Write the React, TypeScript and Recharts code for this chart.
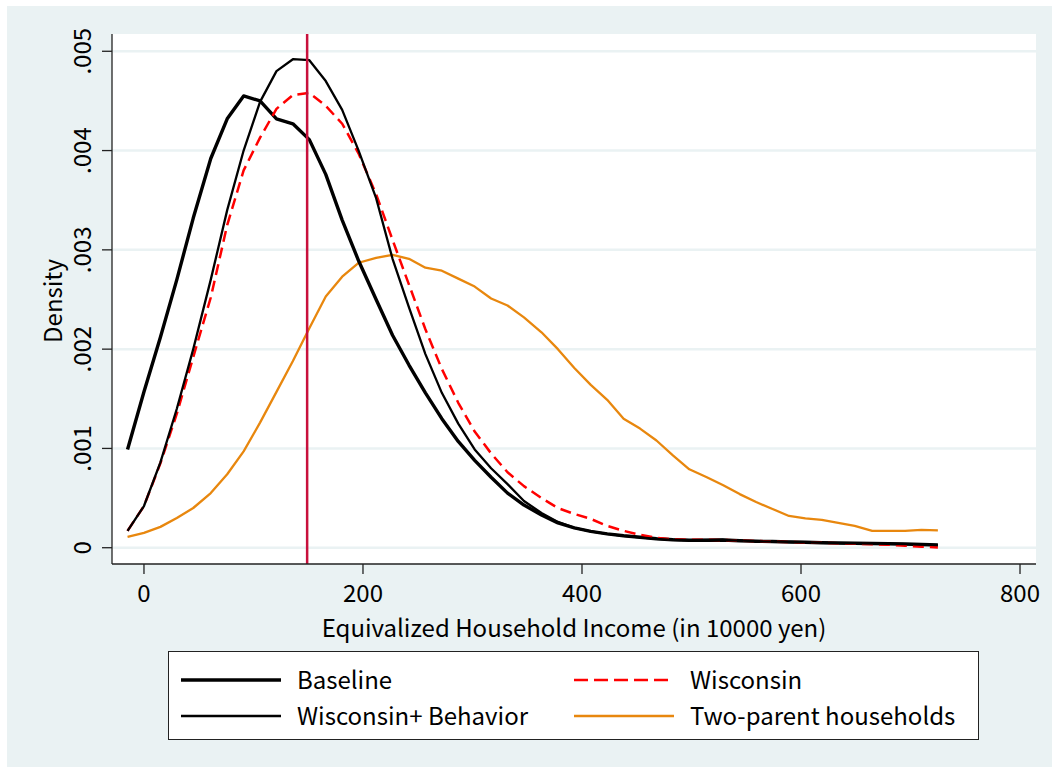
import React from 'react';
import { LineChart, Line, XAxis, YAxis, CartesianGrid, ReferenceLine } from 'recharts';

const xValues = [-15, 0, 15, 30, 45, 61, 76, 91, 106, 121, 136, 151, 166, 181, 196, 212, 227, 242, 257, 272, 287, 302, 317, 332, 347, 363, 378, 393, 408, 423, 438, 453, 468, 483, 498, 514, 529, 544, 559, 574, 589, 604, 619, 634, 649, 665, 680, 695, 710, 725];

const baseline = [0.00099, 0.00157, 0.00212, 0.0027, 0.00332, 0.00392, 0.00432, 0.00455, 0.0045, 0.00432, 0.00427, 0.00411, 0.00376, 0.0033, 0.00289, 0.0025, 0.00214, 0.00184, 0.00156, 0.0013, 0.00107, 0.00088, 0.00071, 0.00055, 0.00043, 0.00033, 0.00025, 0.0002, 0.000165, 0.00014, 0.00012, 0.000105, 0.00009, 0.00008, 0.000075, 0.000075, 0.000078, 0.00007, 0.000065, 0.000062, 0.000058, 0.000055, 0.00005, 0.000047, 0.000045, 0.000042, 0.00004, 0.000037, 0.000032, 0.000027];

const wisconsinBehavior = [0.00017, 0.00042, 0.00086, 0.0014, 0.002, 0.0027, 0.0034, 0.004, 0.00449, 0.0048, 0.00492, 0.00491, 0.0047, 0.00441, 0.004, 0.00352, 0.00291, 0.00242, 0.00195, 0.00156, 0.00125, 0.00099, 0.0008, 0.00064, 0.00047, 0.00035, 0.00026, 0.0002, 0.000165, 0.00014, 0.00012, 0.000105, 0.00009, 0.00008, 0.000075, 0.000078, 0.00008, 0.000072, 0.000066, 0.000062, 0.000058, 0.000055, 0.00005, 0.000047, 0.000045, 0.000042, 0.00004, 0.000037, 0.000032, 0.000027];

const wisconsin = [0.00017, 0.00042, 0.00085, 0.00135, 0.00192, 0.00252, 0.00325, 0.0038, 0.00413, 0.00442, 0.00456, 0.00458, 0.00445, 0.00427, 0.00397, 0.00356, 0.0031, 0.00265, 0.0022, 0.0018, 0.00146, 0.00117, 0.00095, 0.00076, 0.00062, 0.0005, 0.0004, 0.00034, 0.00029, 0.00022, 0.00017, 0.00013, 0.0001, 0.000085, 0.00008, 0.00008, 0.000078, 0.000072, 0.000068, 0.000062, 0.000058, 0.000053, 0.00005, 0.000045, 0.00004, 0.000035, 0.00003, 0.00002, 0.00001, 0.000003];

const twoParent = [0.00011, 0.00015, 0.00021, 0.0003, 0.0004, 0.00055, 0.00074, 0.00097, 0.00126, 0.00157, 0.00188, 0.00221, 0.00253, 0.00273, 0.00287, 0.00292, 0.00295, 0.00291, 0.00282, 0.00279, 0.00271, 0.00263, 0.00251, 0.00244, 0.00232, 0.00217, 0.002, 0.00181, 0.00164, 0.00149, 0.0013, 0.0012, 0.00108, 0.00093, 0.00079, 0.00071, 0.00063, 0.00054, 0.00046, 0.00039, 0.00032, 0.000295, 0.00028, 0.00025, 0.00022, 0.00017, 0.00017, 0.00017, 0.00018, 0.000175];

const xTicks = [0, 200, 400, 600, 800];
const yTicks = [0, 0.001, 0.002, 0.003, 0.004, 0.005];
const yTickLabels = ['0', '.001', '.002', '.003', '.004', '.005'];
const medianLine = 149;

const xTitle = 'Equivalized Household Income (in 10000 yen)';
const yTitle = 'Density';

const seriesInfo = [
  { key: 'baseline', label: 'Baseline', color: '#000000', width: 3.4, dash: undefined as string | undefined },
  { key: 'wisconsin', label: 'Wisconsin', color: '#ff0000', width: 2.5, dash: '11 6' },
  { key: 'wisconsinBehavior', label: 'Wisconsin+ Behavior', color: '#000000', width: 2.3, dash: undefined },
  { key: 'twoParent', label: 'Two-parent households', color: '#e8870e', width: 2.3, dash: undefined },
];

const FONT = '"Noto Sans CJK JP", "Noto Sans", sans-serif';
const BG = '#eaf2f3';
const FS = 24;

const XTick = (props: any) => {
  const { x, y, payload } = props;
  return (
    <text x={x} y={y + 26} textAnchor="middle" fontFamily={FONT} fontSize={FS} fill="#000">
      {payload.value}
    </text>
  );
};

const YTick = (props: any) => {
  const { y, payload, index } = props;
  const bx = 91;
  const i = yTicks.indexOf(payload.value);
  return (
    <text x={bx} y={y} transform={`rotate(-90, ${bx}, ${y})`} textAnchor="middle" fontFamily={FONT} fontSize={FS} fill="#000">
      {yTickLabels[i >= 0 ? i : index]}
    </text>
  );
};

export default function App() {
  const data = xValues.map((x, i) => ({
    x,
    baseline: baseline[i],
    wisconsin: wisconsin[i],
    wisconsinBehavior: wisconsinBehavior[i],
    twoParent: twoParent[i],
  }));

  const drawOrder = ['twoParent', 'baseline', 'wisconsin', 'wisconsinBehavior'];

  return (
    <div style={{ position: 'absolute', left: 0, top: 0, width: 1058, height: 771, background: '#fff', overflow: 'hidden' }}>
      <div style={{ position: 'absolute', left: 7, top: 6, width: 1045, height: 761, background: BG }} />
      <div style={{ position: 'absolute', left: 0, top: 0 }}>
        <LineChart width={1058} height={771} data={data} margin={{ top: 34, right: 22, bottom: 147, left: 52 }}>
          <CartesianGrid horizontal vertical={false} fill="#ffffff" stroke={BG} strokeWidth={2.5} horizontalValues={yTicks} />
          <XAxis
            dataKey="x"
            type="number"
            domain={[-29.2, 814.6]}
            ticks={xTicks}
            allowDataOverflow
            height={60}
            tickSize={10}
            tickMargin={2}
            axisLine={{ stroke: '#222', strokeWidth: 1.3 }}
            tickLine={{ stroke: '#222', strokeWidth: 1.3 }}
            tick={<XTick />}
            interval={0}
          />
          <YAxis
            type="number"
            domain={[-0.000164, 0.005174]}
            ticks={yTicks}
            allowDataOverflow
            width={60}
            tickSize={10}
            tickMargin={2}
            axisLine={{ stroke: '#222', strokeWidth: 1.3 }}
            tickLine={{ stroke: '#222', strokeWidth: 1.3 }}
            tick={<YTick />}
            interval={0}
          />
          {drawOrder.map((k) => {
            const s = seriesInfo.find((t) => t.key === k)!;
            return (
              <Line
                key={k}
                type="linear"
                dataKey={k}
                stroke={s.color}
                strokeWidth={s.width}
                strokeDasharray={s.dash}
                dot={false}
                activeDot={false}
                isAnimationActive={false}
                strokeLinejoin="round"
              />
            );
          })}
          <ReferenceLine x={medianLine} stroke="#c8103c" strokeWidth={2.5} ifOverflow="extendDomain" />
          <text x={574} y={637} textAnchor="middle" fontFamily={FONT} fontSize={FS} fill="#000">{xTitle}</text>
          <text x={62} y={301} transform="rotate(-90, 62, 301)" textAnchor="middle" fontFamily={FONT} fontSize={FS} fill="#000">{yTitle}</text>
        </LineChart>
      </div>
      <div style={{ position: 'absolute', left: 168, top: 651, width: 809, height: 87, background: '#fff', border: '1px solid #222' }}>
        <svg width={809} height={87} style={{ position: 'absolute', left: 0, top: 0 }}>
          {seriesInfo.map((s, i) => {
            const col = i % 2;
            const row = Math.floor(i / 2);
            const lx = col === 0 ? 12 : 405;
            const ly = row === 0 ? 28 : 64;
            return (
              <g key={s.key}>
                <line x1={lx} x2={lx + 100} y1={ly} y2={ly} stroke={s.color} strokeWidth={s.width} strokeDasharray={s.dash ? '14 6' : undefined} />
                <text x={lx + 116} y={ly + 9} fontFamily={FONT} fontSize={FS} fill="#000">{s.label}</text>
              </g>
            );
          })}
        </svg>
      </div>
    </div>
  );
}
